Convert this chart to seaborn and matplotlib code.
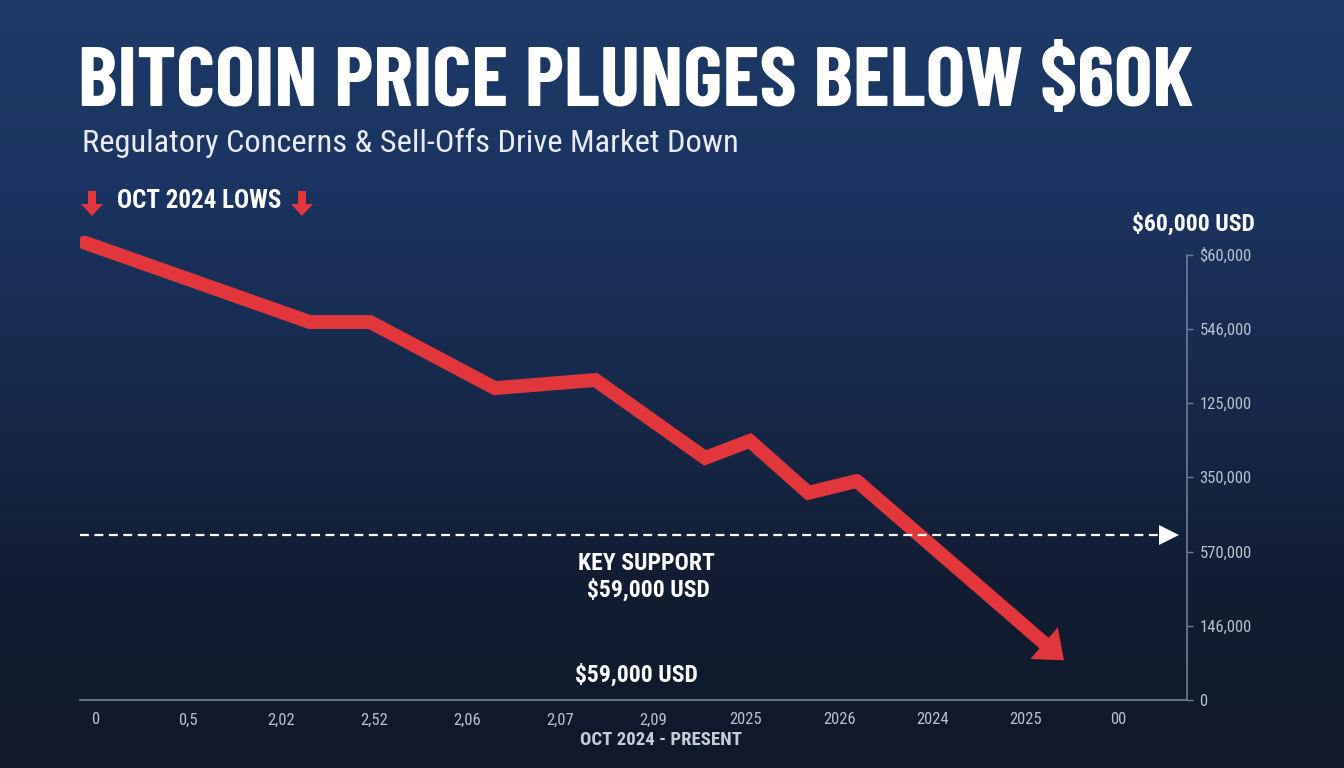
import numpy as np
import pandas as pd
import seaborn as sns
import matplotlib.pyplot as plt
from matplotlib.colors import LinearSegmentedColormap
from matplotlib.patches import FancyArrowPatch, Polygon

# data (positions in tick units)
x_labels = ['0', '0,5', '2,02', '2,52', '2,06', '2,07', '2,09', '2025', '2026', '2024', '2025', '00']
y_labels = ['0', '146,000', '570,000', '350,000', '125,000', '546,000', '$60,000']
t = [-0.11, 2.31, 2.96, 4.30, 5.38, 6.56, 7.04, 7.67, 8.19, 10.44]
price = [6.16, 5.09, 5.09, 4.20, 4.31, 3.26, 3.49, 2.79, 2.95, 0.51]
support_level = 2.22

df = pd.DataFrame({'t': t, 'price': price})

sns.set_theme(style='white')
plt.rcParams['font.family'] = ['Roboto Condensed', 'DejaVu Sans']

W, H = 1344, 768
fig = plt.figure(figsize=(W / 100, H / 100), dpi=100)


def fx(px):
    return px / W


def fy(py):
    return 1 - py / H


# background gradient
bg = fig.add_axes([0, 0, 1, 1])
grad = np.linspace(0, 1, 256).reshape(-1, 1)
cmap = LinearSegmentedColormap.from_list('bg', ['#1e3a66', '#1b3360', '#172a4c', '#121d33', '#10192a'])
bg.imshow(grad, aspect='auto', cmap=cmap, extent=[0, 1, 0, 1])
bg.set_xlim(0, 1)
bg.set_ylim(0, 1)
bg.set_axis_off()

ax = fig.add_axes([fx(80), fy(700), fx(1187 - 80), (700 - 230) / H])
ax.patch.set_alpha(0)

red = '#e0363c'
sns.lineplot(data=df.iloc[:-1], x='t', y='price', ax=ax, color=red, lw=10,
             solid_capstyle='round', solid_joinstyle='miter', sort=False)
# last segment with arrow head
x0, y0 = t[-2], price[-2]
x1, y1 = t[-1], price[-1]
ax.plot([x0, x0 + 0.92 * (x1 - x0)], [y0, y0 + 0.92 * (y1 - y0)], color=red, lw=10,
        solid_capstyle='butt')
ax.add_patch(FancyArrowPatch((x0 + 0.85 * (x1 - x0), y0 + 0.85 * (y1 - y0)), (x1, y1),
                             arrowstyle='simple,head_length=1.35,head_width=2.15,tail_width=0.01',
                             mutation_scale=14, color=red, lw=0))

# key support dashed line with arrow head
ax.plot([-0.16, 11.45], [support_level, support_level], color='white', lw=1.6,
        ls=(0, (4, 2.5)))
ax.plot([11.55], [support_level], marker='>', ms=15, color='white', mew=0)

ax.set_xlim(-0.16, 11.74)
ax.set_ylim(0, 6.33)
ax.set_xticks(range(len(x_labels)))
ax.set_xticklabels(x_labels)
ax.set_yticks(range(len(y_labels)))
ax.set_yticklabels(y_labels)
ax.yaxis.tick_right()
for s in ['top', 'left']:
    ax.spines[s].set_visible(False)
ax.spines['right'].set_bounds(0, 6)
for s in ['bottom', 'right']:
    ax.spines[s].set_color('#6f7d92')
    ax.spines[s].set_linewidth(1.2)
ax.tick_params(axis='both', colors='#6f7d92', labelcolor='#b8c1ce', labelsize=12,
               length=4, width=1, direction='out', pad=5)
ax.set_xlabel('')
ax.set_ylabel('')

fig.text(fx(78), fy(84), 'BITCOIN PRICE PLUNGES BELOW $60K', color='white',
         fontsize=60.5, fontweight='bold', va='center', ha='left',
         family=['Barlow Condensed', 'Roboto Condensed', 'DejaVu Sans'])
fig.text(fx(82), fy(143), 'Regulatory Concerns & Sell-Offs Drive Market Down',
         color='#e8ecf2', fontsize=23.4, va='center', ha='left')
fig.text(fx(117), fy(201), 'OCT 2024 LOWS', color='white', fontsize=18,
         fontweight='bold', va='center', ha='left')


def down_arrow(cx, top, bottom):
    shaft_w, head_w, head_h = 4, 11, 12
    pts = [(cx - shaft_w, top), (cx + shaft_w, top), (cx + shaft_w, bottom - head_h),
           (cx + head_w, bottom - head_h), (cx, bottom), (cx - head_w, bottom - head_h),
           (cx - shaft_w, bottom - head_h)]
    fig.add_artist(Polygon([(fx(a), fy(b)) for a, b in pts], closed=True,
                           transform=fig.transFigure, color=red, lw=0))


down_arrow(92, 191, 216)
down_arrow(302, 191, 216)

fig.text(fx(1193), fy(224), '$60,000 USD', color='white', fontsize=17,
         fontweight='bold', va='center', ha='center')
fig.text(fx(646), fy(563), 'KEY SUPPORT', color='white', fontsize=17,
         fontweight='bold', va='center', ha='center')
fig.text(fx(648), fy(590), '$59,000 USD', color='white', fontsize=17,
         fontweight='bold', va='center', ha='center')
fig.text(fx(636), fy(675), '$59,000 USD', color='white', fontsize=17,
         fontweight='bold', va='center', ha='center')
fig.text(fx(661), fy(740), 'OCT 2024 - PRESENT', color='#c6cdd8', fontsize=13.5,
         fontweight='bold', va='center', ha='center')

fig.savefig('out.png', dpi=100)
